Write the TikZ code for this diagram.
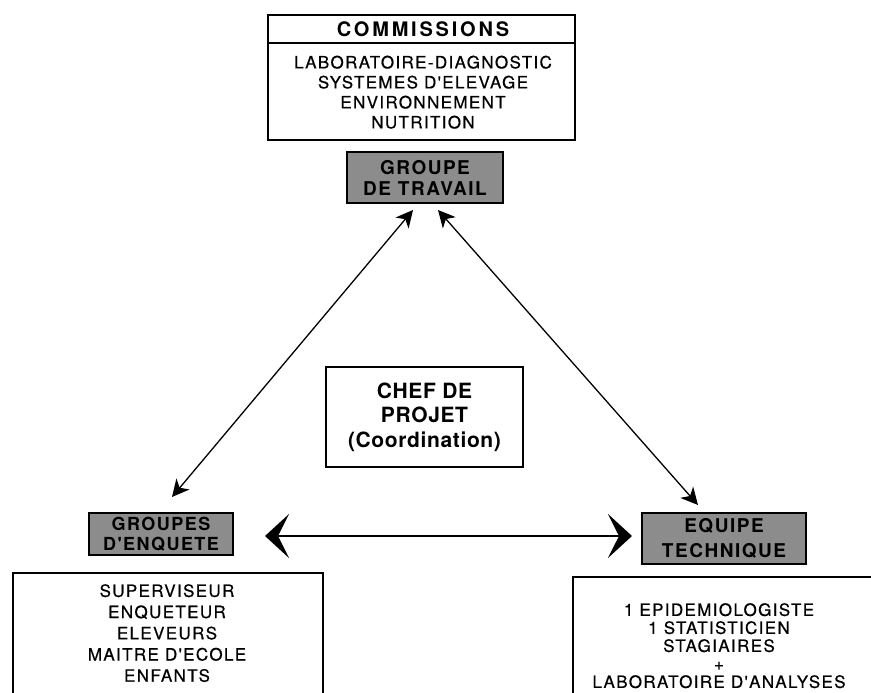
\documentclass[tikz,border=0pt]{standalone}
\usepackage{fontspec}
\setmainfont{TeX Gyre Heros}
\newfontfamily\bodyfont[LetterSpace=8,FakeBold=0.6]{TeX Gyre Heros}
\newfontfamily\titlefont[LetterSpace=14]{TeX Gyre Heros}
\newfontfamily\labelfont[LetterSpace=8]{TeX Gyre Heros}
\newfontfamily\cheffont[LetterSpace=3]{TeX Gyre Heros}
\usetikzlibrary{arrows.meta}
\begin{document}
\begin{tikzpicture}[x=1pt,y=-1pt,
  plainbox/.style={draw,line width=1.4pt,inner sep=0pt},
  greybox/.style={draw,line width=1.2pt,fill=black!45,inner sep=0pt,align=center,
     font=\labelfont\bfseries\fontsize{19}{21}\selectfont},
  bodytext/.style={inner sep=0pt,align=center,font=\bodyfont\fontsize{17}{20}\selectfont},
  dblarrow/.style={line width=1.3pt,{Stealth[length=17pt,width=17pt,inset=5pt]}-{Stealth[length=17pt,width=17pt,inset=5pt]}},
  bigarrow/.style={line width=2pt,{Stealth[length=24pt,width=44pt,inset=11pt]}-{Stealth[length=24pt,width=44pt,inset=11pt]}}
]
\useasboundingbox (0,0) rectangle (871,693);

% Commissions box
\node[plainbox,minimum width=307pt,minimum height=125pt] (comm) at (421.5,77.5) {};
\coordinate (commsepl) at (268,43);
\coordinate (commsepr) at (575,43);
\draw[line width=1.4pt] (commsepl) -- (commsepr);
\node[inner sep=0pt,font=\titlefont\bfseries\fontsize{20}{22}\selectfont] (commtitle) at (423,29) {COMMISSIONS};
\node[bodytext,anchor=north] (commbody) at (423,55.5)
  {LABORATOIRE-DIAGNOSTIC\\SYSTEMES D'ELEVAGE\\ENVIRONNEMENT\\NUTRITION};

% Groupe de travail
\node[greybox,minimum width=156pt,minimum height=51pt] (gt) at (425,177.5) {GROUPE\\DE TRAVAIL};

% Chef de projet
\node[plainbox,minimum width=197pt,minimum height=100pt,align=center,
  font=\cheffont\bfseries\fontsize{21}{24.5}\selectfont] (chef) at (424.5,417) {CHEF DE\\PROJET\\(Coordination)};

% Groupes d'enquete
\node[greybox,minimum width=144pt,minimum height=42pt,font=\labelfont\bfseries\fontsize{18}{20}\selectfont] (ge) at (161,534) {GROUPES\\D'ENQUETE};

% Equipe technique
\node[greybox,minimum width=164pt,minimum height=51pt,font=\labelfont\bfseries\fontsize{19}{25}\selectfont] (et) at (724,538.5) {EQUIPE\\TECHNIQUE};

% bottom-left box (open at the bottom)
\coordinate (blA) at (13,700);
\coordinate (blB) at (13,573);
\coordinate (blC) at (323,573);
\coordinate (blD) at (323,700);
\draw[line width=1.4pt] (blA) -- (blB) -- (blC) -- (blD);
\node[bodytext,anchor=north,font=\bodyfont\fontsize{17}{21.2}\selectfont] (blbody) at (167,584)
  {SUPERVISEUR\\ENQUETEUR\\ELEVEURS\\MAITRE D'ECOLE\\ENFANTS};

% bottom-right box (open at the bottom and right)
\coordinate (brA) at (573,700);
\coordinate (brB) at (573,577);
\coordinate (brC) at (880,577);
\draw[line width=1.4pt] (brA) -- (brB) -- (brC);
\node[bodytext,anchor=north,font=\bodyfont\fontsize{17}{18}\selectfont] (brbody) at (719,603)
  {1 EPIDEMIOLOGISTE\\1 STATISTICIEN\\STAGIAIRES\\+\\LABORATOIRE D'ANALYSES};

% connectors
\coordinate (gtl) at (413,210);
\coordinate (gtr) at (438,210);
\coordinate (getip) at (172,497);
\coordinate (ettip) at (698,505);
\coordinate (hl) at (265,536);
\coordinate (hr) at (632,536);
\draw[dblarrow] (gtl) -- (getip);
\draw[dblarrow] (gtr) -- (ettip);
\draw[bigarrow] (hl) -- (hr);
\end{tikzpicture}
\end{document}
